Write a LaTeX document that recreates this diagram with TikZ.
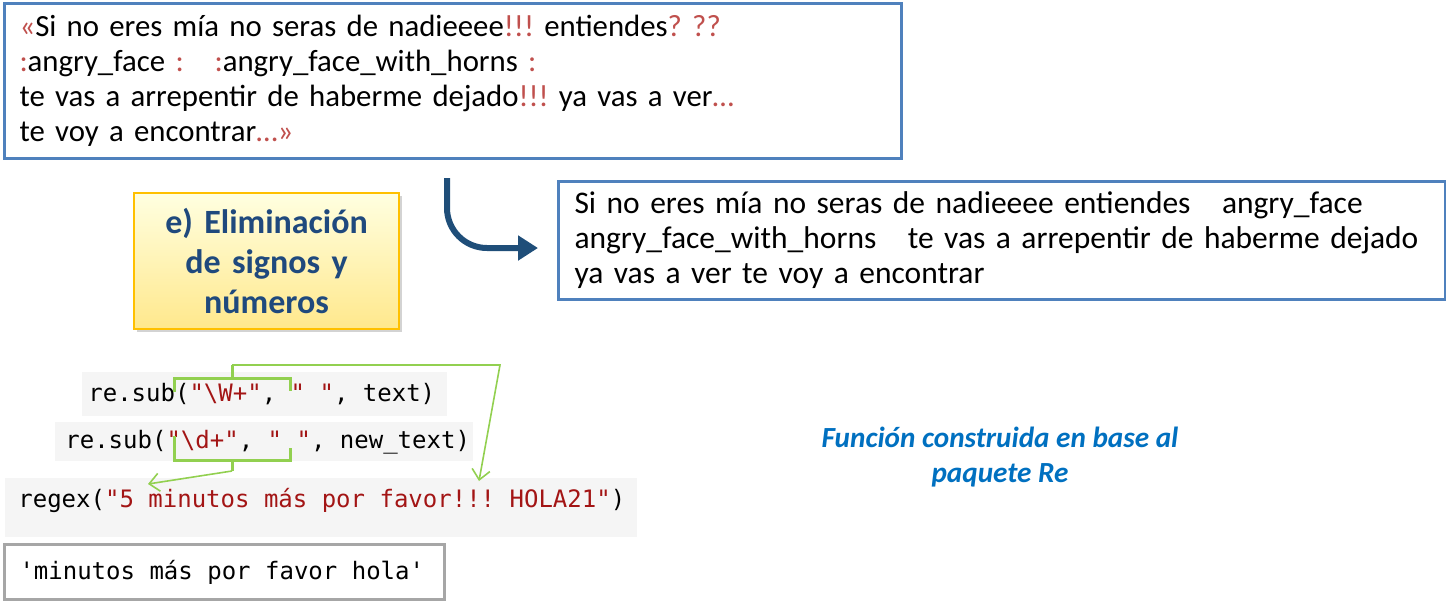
\documentclass[tikz,border=0pt]{standalone}
\usepackage{fontspec}
\setmainfont{Carlito}
\newfontfamily\codefont{DejaVu Sans Mono}
\usetikzlibrary{arrows.meta,shadows}
\definecolor{boxblue}{HTML}{4F81BD}
\definecolor{signred}{HTML}{C0504D}
\definecolor{flowblue}{HTML}{1F4E79}
\definecolor{titleblue}{HTML}{1F497D}
\definecolor{noteblue}{HTML}{0070C0}
\definecolor{codered}{HTML}{A31515}
\definecolor{codebg}{HTML}{F5F5F5}
\definecolor{markgreen}{HTML}{92D050}
\definecolor{goldline}{HTML}{FFC000}
\definecolor{resultgray}{HTML}{A6A6A6}
\newcommand{\sg}[1]{\textcolor{signred}{#1}}
\newcommand{\cs}[1]{\textcolor{codered}{#1}}
\newcommand{\ws}{\makebox[0.602em]{}}
\frenchspacing

\begin{document}
\begin{tikzpicture}[
      x=0.5pt, y=-0.5pt,
      textbox/.style={rectangle, draw=boxblue, line width=1.5pt, anchor=north west, align=left, fill=white, font=\fontsize{15.4}{17.5}\selectfont},
      stepbox/.style={rectangle, draw=goldline, line width=1pt, anchor=north west, align=center, top color=yellow!12, bottom color=yellow!60!orange!45, drop shadow={shadow xshift=1.5pt, shadow yshift=-1.5pt, opacity=0.35}, font=\fontsize{17}{20}\selectfont\bfseries, text=titleblue},
      codeline/.style={rectangle, fill=codebg, anchor=north west, align=left, inner ysep=0pt, font=\codefont\fontsize{12}{14}\selectfont},
      result/.style={codeline, fill=white, draw=resultgray, line width=1.5pt},
      flow/.style={line width=3pt, draw=flowblue, rounded corners=20pt, -{Triangle[length=10pt, width=12pt]}},
      brace/.style={draw=markgreen, line width=1.5pt},
      link/.style={draw=markgreen, line width=0.8pt, -{Straight Barb[length=5pt, width=9pt]}}
  ]
  \useasboundingbox (0,0) rectangle (1446,601);

  % Nodes
  \node[textbox, minimum width=448.5pt, minimum height=77.5pt, text width=433.5pt] (tweet) at (3,2)
    {\sg{«}Si no eres mía no seras de nadieeee\sg{!!!} entiendes\sg{? ??}\\
     \sg{:}angry\_face \sg{:}\ \ \ \sg{:}angry\_face\_with\_horns \sg{:}\\
     te vas a arrepentir de haberme dejado\sg{!!!} ya vas a ver\sg{…}\\
     te voy a encontrar\sg{…»}};
  \node[textbox, minimum width=443.5pt, minimum height=59pt, text width=427.5pt, font=\fontsize{15.75}{17.5}\selectfont] (clean) at (557,180)
    {Si no eres mía no seras de nadieeee entiendes\ \ \ angry\_face\\
     angry\_face\_with\_horns\ \ \ te vas a arrepentir de haberme dejado\\
     ya vas a ver te voy a encontrar};
  \node[stepbox, minimum width=132.5pt, minimum height=68pt, text width=120pt] (step) at (133,192)
    {e) Eliminación\\de signos y\\números};
  \node[align=center, text=noteblue, font=\fontsize{14.6}{17.5}\selectfont\bfseries\itshape] (note) at (1000,457)
    {Función construida en base al\\paquete Re};

  % Code
  \node[codeline, minimum width=182.5pt, minimum height=22pt, text width=176.5pt, inner xsep=3pt] (subw) at (82,372)
    {\mbox{re.sub(\cs{"\textbackslash W+"},\ws\cs{"\ws"},\ws text)}};
  \node[codeline, minimum width=209pt, minimum height=19.5pt, text width=199pt, inner xsep=5pt] (subd) at (55,422)
    {\mbox{re.sub(\cs{"\textbackslash d+"},\ws\cs{"\ws"},\ws new\_text)}};
  \node[codeline, minimum width=316pt, minimum height=29.5pt, text width=303pt, inner xsep=6.5pt, text depth=10pt] (call) at (5,478)
    {\mbox{regex(\cs{"5\ws minutos\ws más\ws por\ws favor!!!\ws HOLA21"})}};
  \node[result, minimum width=220pt, minimum height=27.5pt, text width=205pt, inner xsep=7.5pt] (out) at (3,543)
    {\mbox{'minutos\ws más\ws por\ws favor\ws hola'}};

  % Braces
  \coordinate (wtick) at (232,365);
  \coordinate (wcorner) at (500,365);
  \coordinate (wtarget) at (479,481);
  \coordinate (dtick) at (232,471);
  \coordinate (dtarget) at (148,484);
  \draw[brace] (174,392) -- (174,378) -- (290,378) -- (290,391);
  \draw[brace] (wtick) -- (232,378);
  \draw[brace] (174,436) -- (174,460) -- (290,460) -- (290,448);
  \draw[brace] (232,460) -- (dtick);

  % Arrows
  \coordinate (bendstart) at (447,178);
  \coordinate (bendend) at (538,248);
  \draw[flow] (bendstart) |- (bendend);
  \draw[link] (wtick) -- (wcorner) -- (wtarget);
  \draw[link] (dtick) -- (dtarget);

\end{tikzpicture}
\end{document}
